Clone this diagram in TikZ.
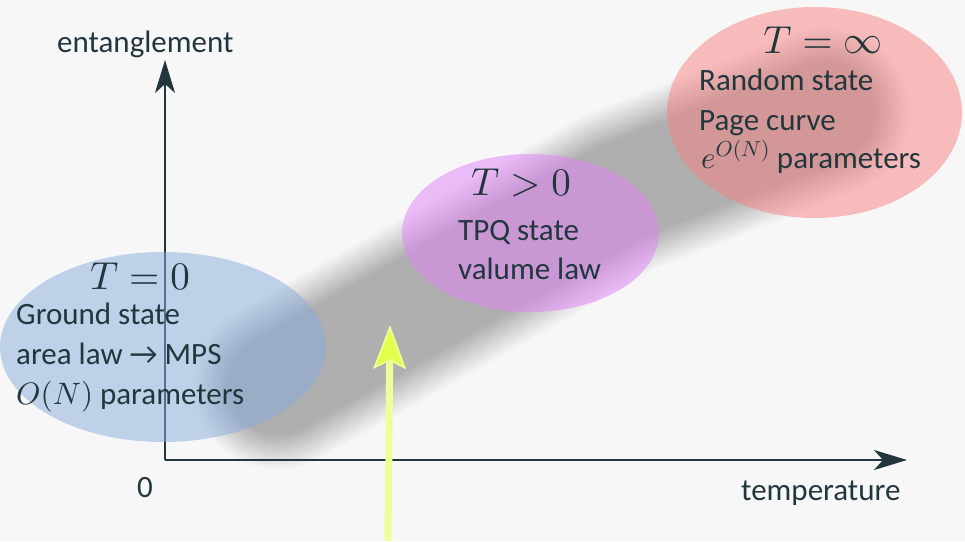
\documentclass[tikz,border=0pt]{standalone}
\usepackage[no-math]{fontspec}
\setmainfont{Carlito}
\DeclareFontShape{OML}{cmm}{m}{it}{<->cmmi10}{\skewchar\font'177}
\DeclareFontShape{OMS}{cmsy}{m}{n}{<->cmsy10}{\skewchar\font'60}
\DeclareFontShape{OT1}{cmr}{m}{n}{<->cmr10}{}
\usetikzlibrary{arrows.meta,shapes.geometric}
\definecolor{bgc}{HTML}{F7F7F7}
\definecolor{txt}{HTML}{22373D}
\definecolor{blueE}{HTML}{89ABDD}
\definecolor{purpE}{HTML}{E181F9}
\definecolor{pinkE}{HTML}{F98181}
\definecolor{ylw}{HTML}{EEFF99}
\definecolor{ylwhead}{HTML}{E4FF50}
\begin{document}
\begin{tikzpicture}[x=1pt,y=-1pt,
  lbl/.style={font=\fontsize{31}{40}\selectfont, text=txt, inner sep=0pt, anchor=base west},
  hdr/.style={font=\fontsize{39}{40}\selectfont, text=txt, inner sep=0pt, anchor=base},
  blob/.style={ellipse, inner sep=0pt, fill opacity=0.5},
  axis/.style={draw=txt, line width=2pt, -{Stealth[length=33pt,width=20pt,inset=9pt]}},
  shd/.style={line cap=round, line join=round, draw=black, draw opacity=0.009}]
\fill[bgc] (0,0) rectangle (965,541);
\useasboundingbox (0,0) rectangle (965,541);
% shadow band
\coordinate (s1) at (278,385);
\coordinate (s2) at (620,192);
\coordinate (s3) at (825,112);
\foreach \w in {170,168,...,100} \draw[shd, line width=\w pt] (s1) -- (s2) -- (s3);
% axes
\coordinate (O) at (165,460);
\coordinate (ytip) at (165,60);
\coordinate (xtip) at (907,460);
\draw[axis] (O) -- (ytip);
\draw[axis] (O) -- (xtip);
% ellipses
\node[blob, fill=blueE, minimum width=326pt, minimum height=190pt] (e0) at (163,347) {};
\node[blob, fill=purpE, minimum width=257pt, minimum height=158pt] (e1) at (530.5,233) {};
\node[blob, fill=pinkE, minimum width=295pt, minimum height=211pt] (e2) at (814.5,112.5) {};
% texts
\node[hdr] (h0) at (140,289) {$T=0$};
\node[lbl] (a1) at (16,324) {Ground state};
\node[lbl] (a2) at (16,364) {area law → MPS};
\node[lbl] (a3) at (16,404) {$O(N)$ parameters};
\node[hdr] (h1) at (521,195) {$T>0$};
\node[lbl] (b1) at (458,240) {TPQ state};
\node[lbl] (b2) at (458,279) {valume law};
\node[hdr] (h2) at (823,53) {$T=\infty$};
\node[lbl] (c1) at (699,90) {Random state};
\node[lbl] (c2) at (699,130) {Page curve};
\node[lbl] (c3) at (701,168) {$e^{O(N)}$ parameters};
\node[lbl] (ylab) at (57,52) {entanglement};
\node[lbl] (zero) at (137,497) {0};
\node[lbl] (xlab) at (741,500) {temperature};
% yellow arrow
\coordinate (y1) at (388,541);
\coordinate (y2) at (390,325);
\draw[line width=7pt, ylw, -{Stealth[length=44pt,width=33pt,inset=8pt,fill=ylwhead,line width=1.5pt]}] (y1) -- (y2);
\end{tikzpicture}
\end{document}
